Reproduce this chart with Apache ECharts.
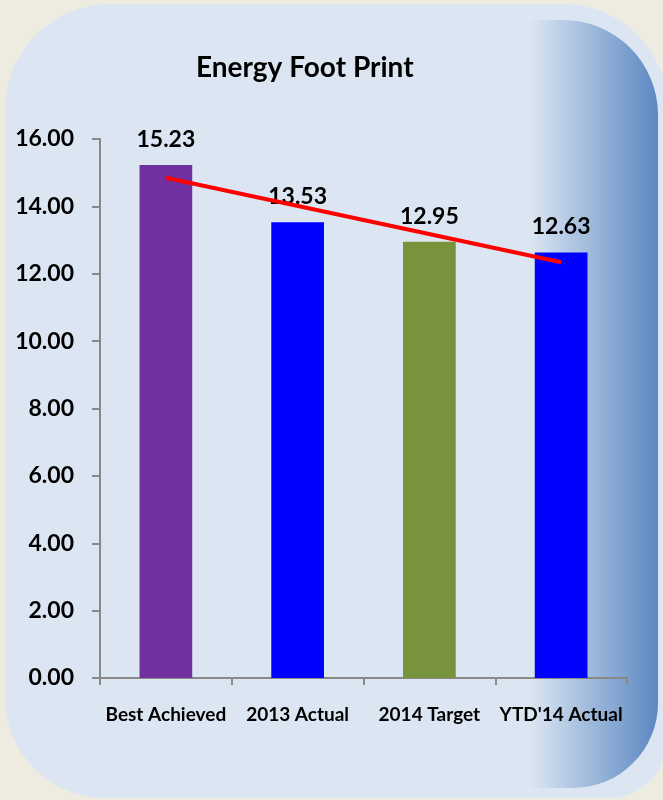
<!DOCTYPE html>
<html>
<head>
<meta charset="utf-8">
<script src="https://cdn.jsdelivr.net/npm/echarts@6/dist/echarts.min.js"></script>
<style>
  html, body { margin: 0; padding: 0; background: #eeece1; }
  #chart { width: 663px; height: 800px; }
</style>
</head>
<body>
<div id="chart"></div>
<script>
// categories and values
var categories = ['Best Achieved', '2013 Actual', '2014 Target', "YTD'14 Actual"]
var values = [15.23, 13.53, 12.95, 12.63]
var barColors = ['#7030a0', '#0000ff', '#77933c', '#0000ff']
// trend line: only the two end points are read, middle left empty
var trend = [14.85, null, null, 12.34]
var yTicks = { min: 0, max: 16, interval: 2 }

var font = 'Lato'

var chart = echarts.init(document.getElementById('chart'))

var option = {
  backgroundColor: '#eeece1',
  animation: false,
  textStyle: { fontFamily: font },
  graphic: [
    {
      type: 'rect',
      z: -10,
      silent: true,
      shape: { x: 5, y: 4, width: 663, height: 794, r: [105, 105, 60, 100] },
      style: { fill: '#dce6f2' }
    },
    {
      type: 'rect',
      z: -9,
      silent: true,
      shape: { x: 530, y: 20, width: 128, height: 768, r: [0, 95, 85, 0] },
      style: {
        fill: new echarts.graphic.LinearGradient(0, 0, 1, 0, [
          { offset: 0, color: '#dce6f2' },
          { offset: 1, color: '#5b88c2' }
        ])
      }
    }
  ],
  title: {
    text: 'Energy Foot Print',
    left: 191,
    top: 49,
    textStyle: { fontFamily: font, fontSize: 28, fontWeight: 'bold', color: '#000' }
  },
  grid: { left: 100, right: 36, top: 139, bottom: 122, containLabel: false },
  xAxis: {
    type: 'category',
    data: categories,
    axisLine: { lineStyle: { color: '#898989', width: 2 } },
    axisTick: { show: true, length: 7, alignWithLabel: false, lineStyle: { color: '#898989', width: 2 } },
    axisLabel: {
      margin: 27,
      fontFamily: font,
      fontSize: 19,
      fontWeight: 'bold',
      color: '#000',
      interval: 0
    }
  },
  yAxis: {
    type: 'value',
    min: yTicks.min,
    max: yTicks.max,
    interval: yTicks.interval,
    splitLine: { show: false },
    axisLine: { show: true, lineStyle: { color: '#898989', width: 2 } },
    axisTick: { show: true, length: 8, lineStyle: { color: '#898989', width: 2 } },
    axisLabel: {
      margin: 26,
      fontFamily: font,
      fontSize: 23,
      fontWeight: 'bold',
      color: '#000',
      formatter: function (v) { return v.toFixed(2) }
    }
  },
  series: [
    {
      type: 'bar',
      barWidth: '40%',
      data: values.map(function (v, i) {
        return { value: v, itemStyle: { color: barColors[i] } }
      }),
      label: {
        show: true,
        position: 'top',
        distance: 14,
        fontFamily: font,
        fontSize: 23,
        fontWeight: 'bold',
        color: '#000',
        formatter: function (p) { return p.value.toFixed(2) }
      }
    },
    {
      type: 'line',
      data: trend,
      connectNulls: true,
      symbol: 'none',
      z: 5,
      lineStyle: { color: '#ff0000', width: 4 }
    }
  ]
}

chart.setOption(option)
</script>
</body>
</html>
